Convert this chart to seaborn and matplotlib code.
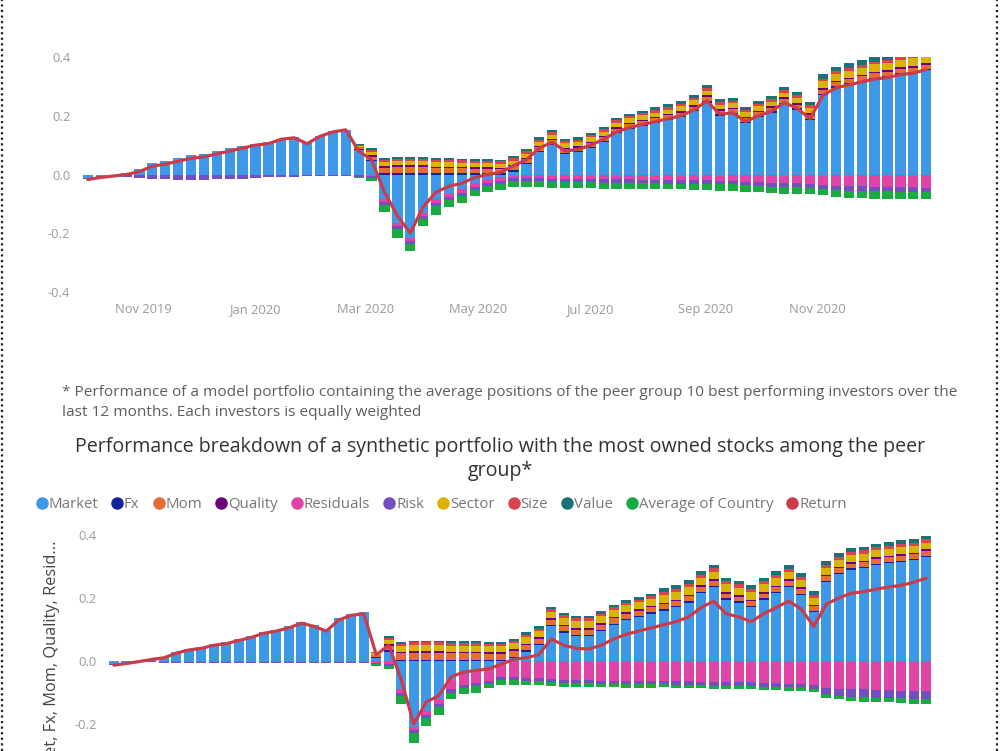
import numpy as np
import pandas as pd
import matplotlib
matplotlib.use("Agg")
import matplotlib.pyplot as plt
from matplotlib.lines import Line2D
import seaborn as sns

# ---------------- data ----------------
week_start = "2019-10-02"
n_weeks = 66
month_ticks = ["2019-11-01", "2020-01-01", "2020-03-01", "2020-05-01",
               "2020-07-01", "2020-09-01", "2020-11-01"]
month_labels = ["Nov 2019", "Jan 2020", "Mar 2020", "May 2020",
                "Jul 2020", "Sep 2020", "Nov 2020"]
series_names = ["Market", "Fx", "Mom", "Quality", "Residuals", "Risk",
                "Sector", "Size", "Value", "Average of Country"]

# --- top chart (model portfolio) ---
ret_top = [-0.017, -0.010, -0.005, 0.000, 0.010, 0.028, 0.035, 0.045, 0.055, 0.060, 0.070,
           0.080, 0.090, 0.100, 0.105, 0.120, 0.125, 0.105, 0.130, 0.145, 0.152, 0.080,
           0.050, -0.060, -0.140, -0.200, -0.110, -0.060, -0.040, -0.030, -0.010, 0.000, 0.007,
           0.030, 0.050, 0.090, 0.110, 0.080, 0.085, 0.100, 0.120, 0.145, 0.160, 0.170,
           0.180, 0.190, 0.200, 0.220, 0.250, 0.205, 0.210, 0.180, 0.200, 0.215, 0.245,
           0.225, 0.190, 0.270, 0.295, 0.305, 0.315, 0.325, 0.330, 0.340, 0.345, 0.357]
mkt_top = [-0.012, -0.005, 0.000, 0.005, 0.018, 0.038, 0.045, 0.055, 0.065, 0.070, 0.080,
           0.090, 0.098, 0.105, 0.110, 0.122, 0.127, 0.107, 0.132, 0.147, 0.153, 0.085,
           0.045, -0.085, -0.165, -0.215, -0.130, -0.085, -0.065, -0.050, -0.030, -0.018, -0.010,
           0.010, 0.035, 0.075, 0.100, 0.070, 0.075, 0.090, 0.110, 0.140, 0.155, 0.165,
           0.175, 0.185, 0.195, 0.215, 0.245, 0.200, 0.205, 0.175, 0.195, 0.210, 0.240,
           0.220, 0.185, 0.270, 0.295, 0.305, 0.315, 0.325, 0.330, 0.340, 0.345, 0.355]
# factor contributions in thousandths
fx_top = [0, 0, 0, 0, 0, 0, 0, 0, 0, 0, 0,
          0, 0, 0, 0, 0, 0, 0, 0, 0, 0, 2,
          4, 5, 5, 5, 5, 4, 4, 4, 4, 4, 4,
          4, 4, 4, 4, 4, 4, 4, 4, 4, 4, 4,
          4, 4, 4, 4, 5, 5, 5, 5, 5, 5, 5,
          5, 5, 5, 5, 5, 5, 5, 5, 5, 5, 5]
mom_top = [0, 0, 0, 0, 0, 0, 0, 0, 0, 0, 0,
           0, 0, 0, 0, 0, 0, 0, 0, 0, 0, 5,
           12, 18, 20, 20, 20, 18, 18, 17, 16, 15, 14,
           14, 13, 13, 12, 12, 12, 12, 12, 12, 12, 12,
           12, 12, 12, 12, 14, 12, 12, 12, 12, 12, 13,
           13, 13, 14, 14, 14, 14, 14, 14, 14, 14, 14]
quality_top = [0, 0, 0, 0, 0, 0, 0, 0, 0, 0, 0,
               0, 0, 0, 0, 0, 0, 0, 0, 0, 0, 2,
               5, 6, 6, 6, 6, 5, 5, 5, 5, 5, 5,
               5, 5, 5, 5, 5, 5, 5, 5, 5, 5, 5,
               5, 5, 5, 5, 5, 5, 5, 5, 5, 5, 5,
               6, 6, 6, 6, 6, 6, 6, 6, 6, 6, 6]
resid_top = [0, 0, 0, 0, -2, -3, -3, -3, -3, -3, -3,
             -3, -3, -2, -2, -2, -2, -2, -2, -2, -2, -3,
             -5, -8, -10, -12, -12, -12, -12, -12, -12, -12, -12,
             -12, -12, -13, -14, -15, -15, -15, -16, -16, -17, -18,
             -18, -19, -19, -20, -20, -21, -22, -24, -26, -28, -30,
             -30, -32, -35, -38, -40, -40, -42, -42, -43, -44, -45]
risk_top = [-3, -4, -5, -8, -10, -12, -14, -15, -15, -15, -14,
            -13, -12, -10, -8, -6, -5, -4, -4, -3, -3, -5,
            -8, -10, -10, -10, -10, -10, -10, -10, -10, -10, -10,
            -10, -10, -10, -11, -11, -11, -11, -12, -12, -12, -12,
            -12, -12, -12, -12, -12, -12, -12, -12, -13, -13, -13,
            -13, -14, -14, -14, -15, -15, -15, -15, -15, -15, -15]
sector_top = [0, 0, 0, 0, 0, 0, 0, 0, 0, 0, 0,
              0, 0, 0, 0, 0, 0, 0, 0, 0, 0, 4,
              10, 14, 15, 15, 15, 15, 14, 14, 14, 14, 14,
              14, 14, 14, 15, 15, 15, 15, 15, 15, 15, 15,
              15, 15, 16, 16, 16, 16, 16, 16, 16, 16, 16,
              18, 18, 22, 22, 24, 24, 25, 25, 26, 26, 27]
size_top = [0, 0, 0, 0, 0, 0, 0, 0, 0, 0, 0,
            0, 0, 0, 0, 0, 0, 0, 0, 0, 0, 3,
            8, 8, 8, 8, 8, 8, 8, 8, 8, 8, 8,
            8, 8, 8, 8, 8, 8, 8, 8, 8, 8, 8,
            8, 8, 8, 8, 8, 8, 8, 8, 8, 8, 8,
            8, 8, 9, 9, 9, 9, 9, 9, 9, 9, 9]
value_top = [0, 0, 0, 0, 0, 0, 0, 0, 0, 0, 0,
             0, 0, 0, 0, 0, 0, 0, 0, 0, 0, 2,
             5, 6, 6, 6, 6, 6, 6, 6, 6, 6, 6,
             8, 8, 8, 8, 8, 8, 8, 8, 8, 8, 8,
             10, 10, 10, 10, 10, 10, 10, 10, 10, 10, 10,
             12, 12, 16, 16, 17, 17, 18, 18, 19, 19, 20]
country_top = [0, 0, 0, 0, 0, 0, 0, 0, 0, 0, 0,
               0, 0, 0, 0, 0, 0, 0, 0, 0, 0, -5,
               -10, -25, -30, -25, -25, -30, -25, -25, -22, -20, -20,
               -20, -20, -20, -20, -20, -20, -20, -20, -20, -20, -20,
               -20, -20, -20, -20, -22, -22, -22, -22, -22, -22, -22,
               -22, -22, -22, -24, -24, -25, -25, -25, -25, -25, -25]

# --- bottom chart (synthetic portfolio) ---
ret_bot = [-0.013, -0.008, -0.002, 0.005, 0.010, 0.025, 0.035, 0.040, 0.050, 0.055, 0.065,
           0.075, 0.088, 0.095, 0.105, 0.120, 0.110, 0.095, 0.130, 0.145, 0.150, 0.020,
           0.050, -0.060, -0.200, -0.130, -0.110, -0.050, -0.035, -0.030, -0.025, -0.010, 0.005,
           0.010, 0.020, 0.070, 0.050, 0.040, 0.038, 0.050, 0.070, 0.085, 0.095, 0.105,
           0.115, 0.125, 0.140, 0.170, 0.190, 0.150, 0.140, 0.125, 0.150, 0.170, 0.190,
           0.165, 0.110, 0.180, 0.200, 0.215, 0.220, 0.228, 0.235, 0.240, 0.250, 0.263]
mkt_bot = [-0.010, -0.005, 0.000, 0.007, 0.013, 0.028, 0.038, 0.044, 0.054, 0.060, 0.070,
           0.080, 0.093, 0.100, 0.110, 0.125, 0.115, 0.100, 0.135, 0.150, 0.155, 0.010,
           0.030, -0.090, -0.210, -0.160, -0.120, -0.060, -0.040, -0.030, -0.020, -0.005, 0.010,
           0.030, 0.050, 0.110, 0.090, 0.080, 0.080, 0.095, 0.115, 0.130, 0.140, 0.150,
           0.160, 0.170, 0.185, 0.215, 0.235, 0.195, 0.185, 0.170, 0.195, 0.215, 0.235,
           0.210, 0.155, 0.250, 0.275, 0.290, 0.295, 0.305, 0.310, 0.315, 0.320, 0.330]
fx_bot = [0, 0, 0, 0, 0, 0, 0, 0, 0, 0, 0,
          0, 0, 0, 0, 0, 0, 0, 0, 0, 0, 2,
          4, 4, 4, 4, 4, 4, 4, 4, 4, 4, 4,
          4, 4, 4, 4, 4, 4, 4, 4, 4, 4, 4,
          4, 4, 4, 4, 4, 4, 4, 4, 4, 4, 4,
          4, 4, 4, 4, 4, 4, 4, 4, 4, 4, 4]
mom_bot = [0, 0, 0, 0, 0, 0, 0, 0, 0, 0, 0,
           0, 0, 0, 0, 0, 0, 0, 0, 0, 0, 6,
           15, 20, 22, 22, 22, 20, 20, 20, 18, 18, 18,
           16, 16, 16, 16, 16, 16, 16, 16, 16, 16, 16,
           16, 16, 16, 16, 16, 15, 15, 15, 15, 15, 15,
           15, 15, 15, 15, 15, 15, 15, 15, 15, 15, 15]
quality_bot = [0, 0, 0, 0, 0, 0, 0, 0, 0, 0, 0,
               0, 0, 0, 0, 0, 0, 0, 0, 0, 0, 2,
               5, 5, 5, 5, 5, 5, 5, 5, 5, 5, 5,
               5, 5, 5, 5, 5, 5, 5, 5, 5, 5, 5,
               5, 5, 5, 5, 5, 5, 5, 5, 5, 5, 5,
               5, 5, 5, 5, 5, 5, 5, 5, 5, 5, 5]
resid_bot = [0, 0, 0, 0, -2, -2, -2, -2, -2, -2, -2,
             -2, -2, -2, -2, -2, -2, -2, -2, -2, -2, -5,
             -8, -10, -10, -10, -15, -30, -35, -40, -42, -45, -50,
             -55, -55, -58, -60, -60, -60, -62, -62, -63, -63, -64,
             -64, -65, -65, -66, -66, -67, -68, -68, -70, -70, -72,
             -72, -75, -85, -88, -90, -90, -92, -92, -94, -95, -95]
risk_bot = [-2, -2, -3, -3, -4, -4, -5, -5, -5, -5, -5,
            -5, -5, -5, -4, -4, -4, -4, -4, -4, -4, -5,
            -8, -10, -10, -10, -10, -10, -10, -10, -10, -10, -10,
            -10, -10, -10, -10, -10, -10, -10, -10, -10, -10, -10,
            -10, -10, -10, -10, -12, -12, -12, -12, -12, -12, -12,
            -12, -14, -20, -22, -24, -25, -25, -25, -25, -25, -25]
sector_bot = [0, 0, 0, 0, 0, 0, 0, 0, 0, 0, 0,
              0, 0, 0, 0, 0, 0, 0, 0, 0, 0, 5,
              12, 18, 20, 20, 20, 20, 20, 20, 20, 20, 20,
              20, 20, 22, 22, 22, 22, 22, 22, 22, 22, 22,
              24, 24, 24, 24, 24, 24, 24, 24, 24, 24, 24,
              22, 22, 22, 22, 22, 22, 22, 22, 22, 22, 22]
size_bot = [0, 0, 0, 0, 0, 0, 0, 0, 0, 0, 0,
            0, 0, 0, 0, 0, 0, 0, 0, 0, 0, 3,
            8, 8, 8, 8, 8, 8, 8, 8, 8, 8, 8,
            8, 8, 8, 8, 8, 8, 8, 8, 8, 8, 8,
            10, 10, 10, 10, 10, 10, 10, 10, 10, 10, 10,
            10, 10, 10, 10, 10, 10, 10, 10, 10, 10, 10]
value_bot = [0, 0, 0, 0, 0, 0, 0, 0, 0, 0, 0,
             0, 0, 0, 0, 0, 0, 0, 0, 0, 0, 2,
             6, 6, 6, 6, 6, 6, 6, 6, 6, 6, 6,
             8, 8, 8, 8, 8, 8, 8, 8, 8, 8, 8,
             12, 12, 12, 12, 12, 12, 12, 12, 12, 12, 12,
             12, 12, 12, 12, 12, 12, 12, 12, 12, 12, 12]
country_bot = [0, 0, 0, 0, 0, 0, 0, 0, 0, 0, 0,
               0, 0, 0, 0, 0, 0, 0, 0, 0, 0, -5,
               -10, -25, -30, -25, -25, -20, -20, -20, -15, -15, -15,
               -12, -12, -12, -12, -12, -12, -12, -12, -12, -12, -12,
               -10, -10, -10, -10, -10, -10, -10, -10, -10, -10, -10,
               -10, -10, -12, -12, -12, -14, -14, -14, -15, -15, -15]

y_ticks_top = [-0.4, -0.2, 0.0, 0.2, 0.4]
y_labels_top = ["-0.4", "-0.2", "0.0", "0.2", "0.4"]
y_ticks_bot = [-0.2, 0.0, 0.2, 0.4]
y_labels_bot = ["-0.2", "0.0", "0.2", "0.4"]

footnote = ("* Performance of a model portfolio containing the average positions of the peer group 10 best performing investors over the\n"
            "last 12 months. Each investors is equally weighted")
title_bottom = ("Performance breakdown of a synthetic portfolio with the most owned stocks among the peer\n"
                "group*")
ylabel_bottom = "Market, Fx, Mom, Quality, Resid..."

# ---------------- style ----------------
colors = {
    "Market": "#3D98E8", "Fx": "#12239E", "Mom": "#E66C37", "Quality": "#6B007B",
    "Residuals": "#E044A7", "Risk": "#744EC2", "Sector": "#D9B300", "Size": "#D64550",
    "Value": "#197278", "Average of Country": "#1AAB40", "Return": "#CC3B4A",
}

sns.set_theme(style="white")
plt.rcParams["font.family"] = ["Open Sans", "DejaVu Sans"]

dates = pd.date_range(week_start, periods=n_weeks, freq="7D")

W, H = 1000, 751
fig = plt.figure(figsize=(W / 100, H / 100), dpi=100)


def px_axes(left, right, top, bottom):
    return fig.add_axes([left / W, 1 - bottom / H, (right - left) / W, (bottom - top) / H])


def draw_panel(ax, mkt, parts, ret, yt, yl, show_x=True):
    values = [np.asarray(mkt, float)] + [np.asarray(p, float) / 1000.0 for p in parts]
    pos_base = np.zeros(n_weeks)
    neg_base = np.zeros(n_weeks)
    for name, v in zip(series_names, values):
        p = np.where(v > 0, v, 0.0)
        q = np.where(v < 0, v, 0.0)
        ax.bar(dates, p, bottom=pos_base, width=5.6, color=colors[name], linewidth=0)
        ax.bar(dates, q, bottom=neg_base, width=5.6, color=colors[name], linewidth=0)
        pos_base += p
        neg_base += q
    df = pd.DataFrame({"date": dates, "Return": ret})
    sns.lineplot(data=df, x="date", y="Return", ax=ax, color=colors["Return"], lw=2.3)
    ax.set_xlim(pd.Timestamp("2019-09-27"), pd.Timestamp("2021-01-04"))
    ax.set_ylim(-0.4, 0.4)
    ax.set_yticks(yt)
    ax.set_yticklabels(yl)
    ax.set_xticks([pd.Timestamp(t) for t in month_ticks])
    ax.set_xticklabels(month_labels)
    ax.tick_params(axis="both", length=0, labelsize=9.3, labelcolor="#9a9a9a")
    ax.tick_params(axis="x", pad=8, labelbottom=show_x)
    ax.tick_params(axis="y", pad=6)
    ax.set_xlabel("")
    ax.set_ylabel("")
    for s in ax.spines.values():
        s.set_visible(False)
    ax.grid(False)
    ax.set_facecolor("none")


ax1 = px_axes(78.6, 935.4, 57, 292)
draw_panel(ax1, mkt_top,
           [fx_top, mom_top, quality_top, resid_top, risk_top, sector_top, size_top, value_top, country_top],
           ret_top, y_ticks_top, y_labels_top)

ax2 = px_axes(104.9, 935.1, 535, 787)
draw_panel(ax2, mkt_bot,
           [fx_bot, mom_bot, quality_bot, resid_bot, risk_bot, sector_bot, size_bot, value_bot, country_bot],
           ret_bot, y_ticks_bot, y_labels_bot, show_x=False)

# texts
fig.text(62 / W, 1 - 385 / H, footnote, ha="left", va="top", fontsize=11.1,
         color="#605E5C", linespacing=1.42)
fig.text(500 / W, 1 - 437 / H, title_bottom, ha="center", va="top", fontsize=14.1,
         color="#333333", linespacing=1.26, multialignment="center")
fig.text(52 / W, 1 - 541 / H, ylabel_bottom, rotation=90, rotation_mode="anchor",
         ha="right", va="center", fontsize=11.8, color="#444444")

# legend
handles = [Line2D([], [], marker="o", linestyle="", markersize=8, color=colors[n])
           for n in series_names + ["Return"]]
fig.legend(handles, series_names + ["Return"], loc="center left",
           bbox_to_anchor=(37 / W, 1 - 505 / H), ncol=11, frameon=False,
           handlelength=0.6, handletextpad=0.15, columnspacing=0.98,
           fontsize=10.8, labelcolor="#777777", borderaxespad=0, borderpad=0)

# dotted page borders
fig.add_artist(Line2D([2 / W, 2 / W], [0, 1], transform=fig.transFigure,
                      color="#222222", lw=1.6, linestyle=(0, (1, 1.5))))
fig.add_artist(Line2D([997 / W, 997 / W], [0, 1], transform=fig.transFigure,
                      color="#222222", lw=1.6, linestyle=(0, (1, 1.5))))

fig.savefig("out.png", dpi=100)
